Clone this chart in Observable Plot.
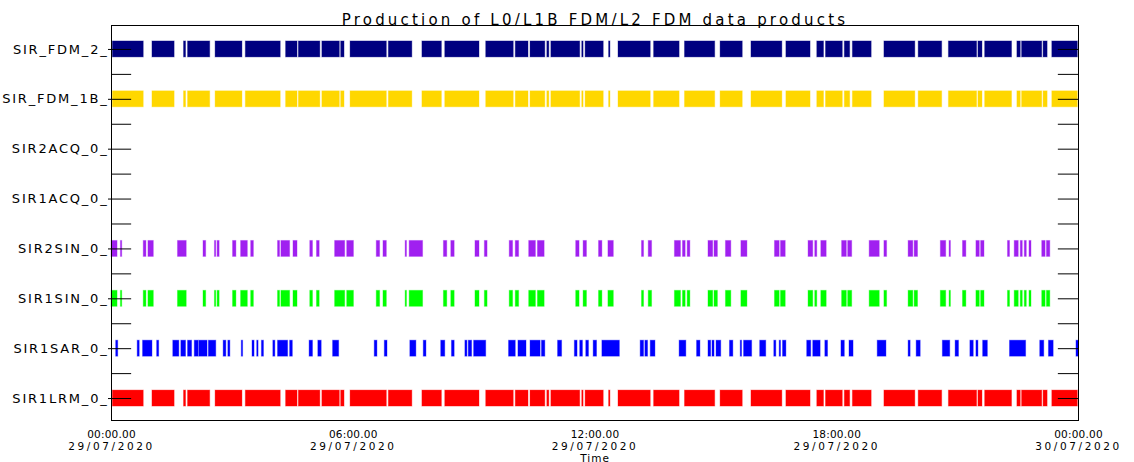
<!DOCTYPE html>
<html><head><meta charset="utf-8">
<script src="https://cdn.jsdelivr.net/npm/d3@7"></script>
<script src="https://cdn.jsdelivr.net/npm/@observablehq/plot@0.6"></script>
<style>body{margin:0;background:#fff}</style>
</head><body><div id="chart"></div>
<script>
const title = "Production of L0/L1B FDM/L2 FDM data products";
const rows = ["SIR_FDM_2","SIR_FDM_1B","SIR2ACQ_0","SIR1ACQ_0","SIR2SIN_0","SIR1SIN_0","SIR1SAR_0","SIR1LRM_0"];
const rowColors = ["#000080","#FFD700","#000000","#000000","#A020F0","#00FF00","#0000FF","#FF0000"];
const xTickTimes = ["00:00","06:00","12:00","18:00","24:00"];
const xTickTimeLabels = ["00:00.00","06:00.00","12:00.00","18:00.00","00:00.00"];
const xTickDateLabels = ["29/07/2020","29/07/2020","29/07/2020","29/07/2020","30/07/2020"];
const xAxisLabel = "Time";

// Segments (UTC start-end)
const lrmSegments = ["00:02-00:48","01:01-01:34","01:48-01:51","01:54-02:27","02:35-03:15","03:20-04:12","04:20-04:37","04:39-05:11","05:14-05:40","05:42-05:47","05:56-06:50","06:53-07:28","07:43-08:12","08:17-09:08","09:18-09:59","10:02-10:21","10:24-10:46","10:49-10:52","10:55-11:38","11:41-11:43","11:46-12:13","12:21-12:23","12:35-13:23","13:28-14:06","14:14-14:59","15:07-15:40","15:53-16:39","16:45-17:21","17:31-17:41","17:44-18:09","18:12-18:20","18:24-18:52","19:11-19:57","20:02-20:37","20:47-21:29","21:31-21:37","21:41-22:21","22:29-22:34","22:36-23:06","23:08-23:14","23:21-23:59"];
const fdm2Segments = lrmSegments;
const fdm1bSegments = lrmSegments;
const acq2Segments = [];
const acq1Segments = [];
const sinSegments = ["00:00-00:09","00:14-00:16","00:48-00:52","00:55-01:03","01:39-01:52","02:17-02:21","02:34-02:36","02:38-02:41","03:01-03:06","03:13-03:23","03:28-03:32","04:08-04:11","04:13-04:26","04:31-04:37","04:56-05:00","05:06-05:10","05:33-05:48","05:51-06:01","06:35-06:40","06:45-06:50","07:18-07:20","07:24-07:44","08:15-08:20","08:26-08:31","09:02-09:08","09:16-09:20","09:53-09:58","10:02-10:07","10:22-10:32","10:35-10:45","11:32-11:37","11:43-11:48","12:06-12:11","12:20-12:28","13:10-13:13","13:20-13:25","13:59-14:08","14:11-14:15","14:18-14:22","14:49-14:56","14:58-15:03","15:15-15:23","15:38-15:47","16:28-16:35","16:37-16:44","17:18-17:25","17:28-17:31","17:37-17:45","18:08-18:15","18:17-18:23","18:49-19:04","19:11-19:15","19:47-19:54","19:56-20:01","20:35-20:43","20:48-20:50","21:08-21:13","21:28-21:33","21:35-21:40","22:15-22:18","22:25-22:31","22:34-22:37","22:40-22:43","22:47-22:50","23:06-23:11","23:13-23:18"];
const sin2Segments = sinSegments;
const sin1Segments = sinSegments;
const sarSegments = ["00:07-00:10","00:39-00:42","00:47-01:01","01:08-01:11","01:32-01:41","01:44-01:51","01:54-02:00","02:04-02:10","02:11-02:23","02:25-02:36","02:47-02:51","02:54-02:57","03:14-03:16","03:30-03:33","03:37-03:39","03:44-03:47","04:01-04:04","04:08-04:23","04:26-04:30","04:55-05:00","05:08-05:13","05:30-05:39","06:32-06:36","06:47-06:51","07:25-07:34","07:45-07:49","08:11-08:17","08:27-08:31","08:47-08:50","08:52-08:57","09:00-09:18","09:52-10:02","10:06-10:18","10:24-10:39","10:41-10:46","11:05-11:11","11:30-11:34","11:38-11:42","11:47-11:51","11:58-12:03","12:11-12:37","13:08-13:13","13:15-13:19","13:23-13:30","14:06-14:16","14:32-14:37","14:49-14:53","14:55-14:58","15:01-15:08","15:21-15:26","15:37-15:39","15:42-15:54","16:06-16:15","16:27-16:30","16:35-16:37","16:40-16:45","17:16-17:22","17:25-17:36","17:43-17:47","18:07-18:12","18:19-18:25","19:01-19:14","19:47-19:50","19:59-20:05","20:38-20:49","20:57-21:02","21:19-21:24","21:28-21:31","21:38-21:45","22:18-22:42","23:03-23:09","23:16-23:23","23:57-24:00"];

const rowSegments = [fdm2Segments, fdm1bSegments, acq2Segments, acq1Segments, sin2Segments, sin1Segments, sarSegments, lrmSegments];

function t(hm) { const [h, m] = hm.split(":").map(Number); return new Date(Date.UTC(2020, 6, 29, h, m)); }

const bars = [];
rowSegments.forEach((segs, i) => segs.forEach(s => {
  const [a, b] = s.split("-");
  bars.push({row: i, start: t(a), end: t(b), color: rowColors[i]});
}));
const rowIdx = rows.map((_, i) => i);
const midTicks = rowIdx.slice(1).map(i => i - 0.5);
const allTicks = rowIdx.concat(midTicks);
const tickLen = 30 * 60 * 1000;
const x0 = t("00:00"), x1 = t("24:00");
const xTicks = xTickTimes.map((s, i) => ({x: t(s), time: xTickTimeLabels[i], date: xTickDateLabels[i]}));

const plot = Plot.plot({
  width: 1134, height: 462,
  marginLeft: 111, marginRight: 56, marginTop: 25, marginBottom: 42,
  style: {fontFamily: "DejaVu Sans", fontSize: "12px", background: "#fff", color: "#000"},
  x: {type: "utc", domain: [x0, x1], axis: null},
  y: {type: "linear", domain: [7.44, -0.48], axis: null},
  color: {type: "identity"},
  marks: [
    Plot.rect(bars, {x1: "start", x2: "end", y1: d => d.row - 0.16, y2: d => d.row + 0.16, fill: "color", stroke: "color", strokeOpacity: 0.35, strokeWidth: 1}),
    Plot.ruleY(allTicks, {y: d => d, x1: x0, x2: new Date(+x0 + tickLen), stroke: "#000"}),
    Plot.ruleY(allTicks, {y: d => d, x1: new Date(+x1 - tickLen), x2: x1, stroke: "#000"}),
    Plot.frame({stroke: "#000"}),
    Plot.axisY(rowIdx, {ticks: rowIdx, tickFormat: i => rows[i] + "_", tickSize: 3, tickPadding: 0, label: null, fontSize: 13}),
    Plot.text(xTicks, {x: "x", text: "time", frameAnchor: "bottom", dy: 17, fontSize: 10.5}),
    Plot.text(xTicks, {x: "x", text: "date", frameAnchor: "bottom", dy: 29, fontSize: 10.5}),
    Plot.text([title], {frameAnchor: "top", dy: -11, text: d => d, fontSize: 15}),
    Plot.text([xAxisLabel], {frameAnchor: "bottom", dy: 41, text: d => d, fontSize: 10.5})
  ]
});
// widen glyph spacing to mimic the wide vector font of the original
d3.select(plot).selectAll("text").each(function() {
  const s = this.textContent;
  let ls = 0;
  if (s === title) ls = 3.2;
  else if (rows.some(r => s === r + "_")) ls = 1.8;
  else if (/^\d\d\/\d\d\/\d{4}$/.test(s)) ls = 2.6;
  else if (/^\d\d:\d\d\.\d\d$/.test(s)) ls = 0.2;
  else if (s === xAxisLabel) ls = 1;
  if (ls) this.setAttribute("letter-spacing", ls);
});
document.getElementById("chart").appendChild(plot);
</script>
</body></html>
